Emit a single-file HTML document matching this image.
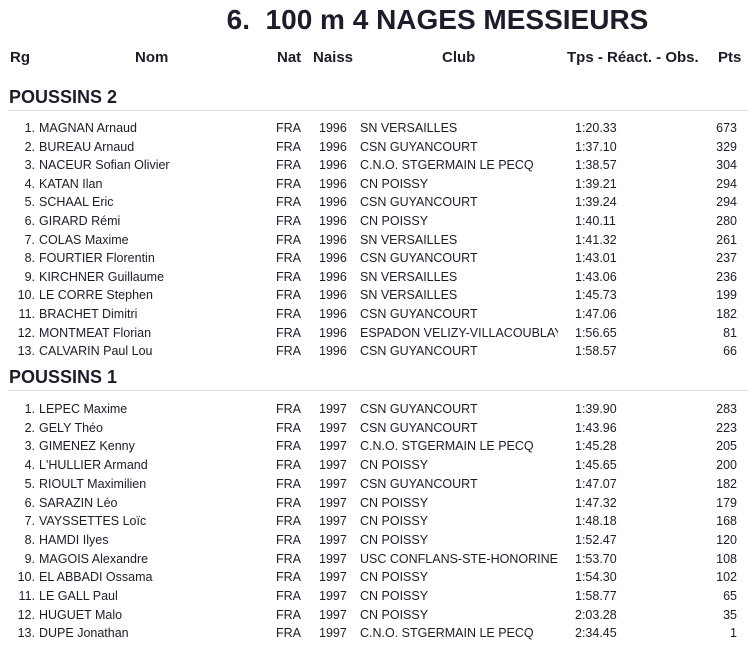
<!DOCTYPE html>
<html><head><meta charset="utf-8"><style>
body{margin:0;width:750px;height:650px;background:#fff;position:relative;overflow:hidden;font-family:"Liberation Sans",Arial,sans-serif;color:#1c1c2a}
div{position:absolute;white-space:nowrap}
.t{left:0;width:750px;top:4px;text-align:center;font-weight:bold;font-size:28px;padding-left:125px;box-sizing:border-box}
.h{font-weight:bold;font-size:15px;top:49px}
.s{left:9px;font-weight:bold;font-size:18px}
.l{left:8px;width:740px;height:1px;background:#ddd}
.r{left:0;width:750px;height:18px;font-size:12.5px;line-height:18px}
.r span{position:absolute}
.n{right:715px;text-align:right}
.nm{left:39px}.na{left:276px}.y{left:319px}.c{left:360px;width:198px;overflow:hidden}.tm{left:575px}.p{right:13px}
</style></head><body>
<div class="t">6.&nbsp; 100 m 4 NAGES MESSIEURS</div>
<div class="h" style="left:10px">Rg</div>
<div class="h" style="left:135px">Nom</div>
<div class="h" style="left:277px">Nat</div>
<div class="h" style="left:313px">Naiss</div>
<div class="h" style="left:442px">Club</div>
<div class="h" style="left:567px">Tps - Réact. - Obs.</div>
<div class="h" style="left:718px">Pts</div>
<div class="s" style="top:87px">POUSSINS 2</div>
<div class="l" style="top:110px"></div>
<div class="r" style="top:119px"><span class="n">1.</span><span class="nm">MAGNAN Arnaud</span><span class="na">FRA</span><span class="y">1996</span><span class="c">SN VERSAILLES</span><span class="tm">1:20.33</span><span class="p">673</span></div>
<div class="r" style="top:137.6px"><span class="n">2.</span><span class="nm">BUREAU Arnaud</span><span class="na">FRA</span><span class="y">1996</span><span class="c">CSN GUYANCOURT</span><span class="tm">1:37.10</span><span class="p">329</span></div>
<div class="r" style="top:156.2px"><span class="n">3.</span><span class="nm">NACEUR Sofian Olivier</span><span class="na">FRA</span><span class="y">1996</span><span class="c">C.N.O. STGERMAIN LE PECQ</span><span class="tm">1:38.57</span><span class="p">304</span></div>
<div class="r" style="top:174.8px"><span class="n">4.</span><span class="nm">KATAN Ilan</span><span class="na">FRA</span><span class="y">1996</span><span class="c">CN POISSY</span><span class="tm">1:39.21</span><span class="p">294</span></div>
<div class="r" style="top:193.4px"><span class="n">5.</span><span class="nm">SCHAAL Eric</span><span class="na">FRA</span><span class="y">1996</span><span class="c">CSN GUYANCOURT</span><span class="tm">1:39.24</span><span class="p">294</span></div>
<div class="r" style="top:212px"><span class="n">6.</span><span class="nm">GIRARD Rémi</span><span class="na">FRA</span><span class="y">1996</span><span class="c">CN POISSY</span><span class="tm">1:40.11</span><span class="p">280</span></div>
<div class="r" style="top:230.6px"><span class="n">7.</span><span class="nm">COLAS Maxime</span><span class="na">FRA</span><span class="y">1996</span><span class="c">SN VERSAILLES</span><span class="tm">1:41.32</span><span class="p">261</span></div>
<div class="r" style="top:249.2px"><span class="n">8.</span><span class="nm">FOURTIER Florentin</span><span class="na">FRA</span><span class="y">1996</span><span class="c">CSN GUYANCOURT</span><span class="tm">1:43.01</span><span class="p">237</span></div>
<div class="r" style="top:267.8px"><span class="n">9.</span><span class="nm">KIRCHNER Guillaume</span><span class="na">FRA</span><span class="y">1996</span><span class="c">SN VERSAILLES</span><span class="tm">1:43.06</span><span class="p">236</span></div>
<div class="r" style="top:286.4px"><span class="n">10.</span><span class="nm">LE CORRE Stephen</span><span class="na">FRA</span><span class="y">1996</span><span class="c">SN VERSAILLES</span><span class="tm">1:45.73</span><span class="p">199</span></div>
<div class="r" style="top:305px"><span class="n">11.</span><span class="nm">BRACHET Dimitri</span><span class="na">FRA</span><span class="y">1996</span><span class="c">CSN GUYANCOURT</span><span class="tm">1:47.06</span><span class="p">182</span></div>
<div class="r" style="top:323.6px"><span class="n">12.</span><span class="nm">MONTMEAT Florian</span><span class="na">FRA</span><span class="y">1996</span><span class="c">ESPADON VELIZY-VILLACOUBLAY</span><span class="tm">1:56.65</span><span class="p">81</span></div>
<div class="r" style="top:342.2px"><span class="n">13.</span><span class="nm">CALVARIN Paul Lou</span><span class="na">FRA</span><span class="y">1996</span><span class="c">CSN GUYANCOURT</span><span class="tm">1:58.57</span><span class="p">66</span></div>
<div class="s" style="top:367px">POUSSINS 1</div>
<div class="l" style="top:390px"></div>
<div class="r" style="top:400px"><span class="n">1.</span><span class="nm">LEPEC Maxime</span><span class="na">FRA</span><span class="y">1997</span><span class="c">CSN GUYANCOURT</span><span class="tm">1:39.90</span><span class="p">283</span></div>
<div class="r" style="top:418.7px"><span class="n">2.</span><span class="nm">GELY Théo</span><span class="na">FRA</span><span class="y">1997</span><span class="c">CSN GUYANCOURT</span><span class="tm">1:43.96</span><span class="p">223</span></div>
<div class="r" style="top:437.4px"><span class="n">3.</span><span class="nm">GIMENEZ Kenny</span><span class="na">FRA</span><span class="y">1997</span><span class="c">C.N.O. STGERMAIN LE PECQ</span><span class="tm">1:45.28</span><span class="p">205</span></div>
<div class="r" style="top:456.1px"><span class="n">4.</span><span class="nm">L'HULLIER Armand</span><span class="na">FRA</span><span class="y">1997</span><span class="c">CN POISSY</span><span class="tm">1:45.65</span><span class="p">200</span></div>
<div class="r" style="top:474.8px"><span class="n">5.</span><span class="nm">RIOULT Maximilien</span><span class="na">FRA</span><span class="y">1997</span><span class="c">CSN GUYANCOURT</span><span class="tm">1:47.07</span><span class="p">182</span></div>
<div class="r" style="top:493.5px"><span class="n">6.</span><span class="nm">SARAZIN Léo</span><span class="na">FRA</span><span class="y">1997</span><span class="c">CN POISSY</span><span class="tm">1:47.32</span><span class="p">179</span></div>
<div class="r" style="top:512.2px"><span class="n">7.</span><span class="nm">VAYSSETTES Loïc</span><span class="na">FRA</span><span class="y">1997</span><span class="c">CN POISSY</span><span class="tm">1:48.18</span><span class="p">168</span></div>
<div class="r" style="top:530.9px"><span class="n">8.</span><span class="nm">HAMDI Ilyes</span><span class="na">FRA</span><span class="y">1997</span><span class="c">CN POISSY</span><span class="tm">1:52.47</span><span class="p">120</span></div>
<div class="r" style="top:549.6px"><span class="n">9.</span><span class="nm">MAGOIS Alexandre</span><span class="na">FRA</span><span class="y">1997</span><span class="c">USC CONFLANS-STE-HONORINE</span><span class="tm">1:53.70</span><span class="p">108</span></div>
<div class="r" style="top:568.3px"><span class="n">10.</span><span class="nm">EL ABBADI Ossama</span><span class="na">FRA</span><span class="y">1997</span><span class="c">CN POISSY</span><span class="tm">1:54.30</span><span class="p">102</span></div>
<div class="r" style="top:587px"><span class="n">11.</span><span class="nm">LE GALL Paul</span><span class="na">FRA</span><span class="y">1997</span><span class="c">CN POISSY</span><span class="tm">1:58.77</span><span class="p">65</span></div>
<div class="r" style="top:605.7px"><span class="n">12.</span><span class="nm">HUGUET Malo</span><span class="na">FRA</span><span class="y">1997</span><span class="c">CN POISSY</span><span class="tm">2:03.28</span><span class="p">35</span></div>
<div class="r" style="top:624.4px"><span class="n">13.</span><span class="nm">DUPE Jonathan</span><span class="na">FRA</span><span class="y">1997</span><span class="c">C.N.O. STGERMAIN LE PECQ</span><span class="tm">2:34.45</span><span class="p">1</span></div>
</body></html>
